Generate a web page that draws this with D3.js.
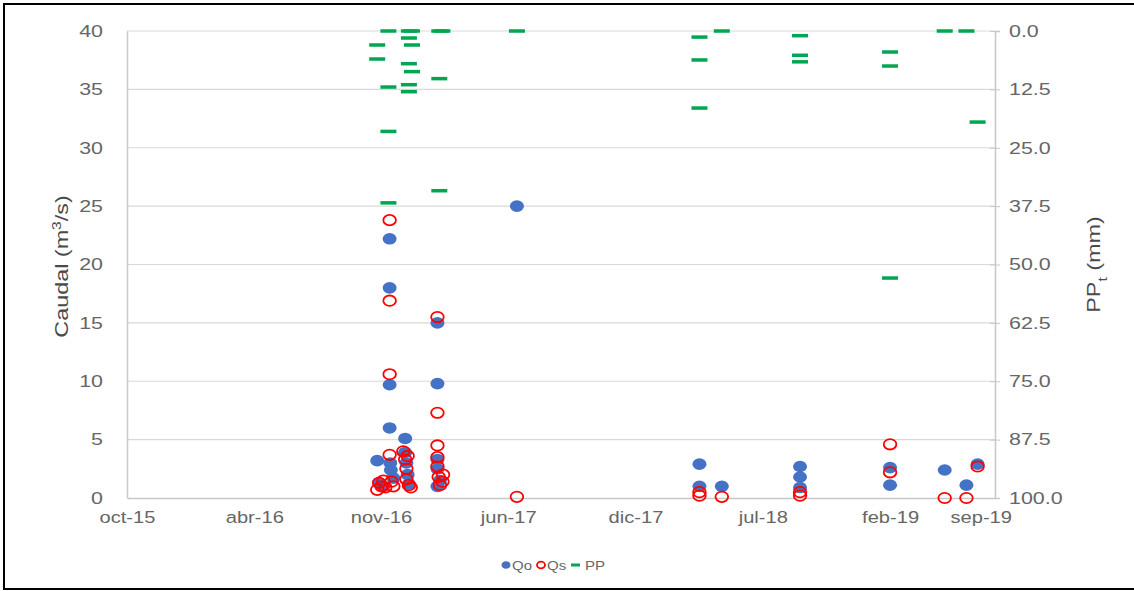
<!DOCTYPE html>
<html><head><meta charset="utf-8">
<script src="https://cdn.jsdelivr.net/npm/d3@7"></script>
<style>body{margin:0;background:#fff}svg{display:block}text{font-family:"Liberation Sans",Arial,sans-serif}</style>
</head><body><svg id="c" width="1134" height="591"></svg>
<script>
const domainDates = ["2015-10-01","2019-07-30"];
const tickDates = ["2015-10-01","2016-04-23","2016-11-13","2017-06-06","2017-12-28","2018-07-21","2019-02-11","2019-07-07"];
const tickLabels = ["oct-15","abr-16","nov-16","jun-17","dic-17","jul-18","feb-19","sep-19"];
const leftTicks = [0,5,10,15,20,25,30,35,40];
const rightTicks = [0,12.5,25,37.5,50,62.5,75,87.5,100];

const qoDates = ["2016-11-07","2016-11-10","2016-11-17","2016-11-27","2016-11-27","2016-11-27","2016-11-27","2016-11-28","2016-11-29","2016-12-03","2016-12-22","2016-12-22","2016-12-24","2016-12-26","2016-12-28","2017-02-12","2017-02-12","2017-02-12","2017-02-12","2017-02-12","2017-02-16","2017-06-20","2018-04-10","2018-04-10","2018-05-16","2018-09-19","2018-09-19","2018-09-19","2019-02-11","2019-02-11","2019-05-10","2019-06-14","2019-07-02"];
const qoValues = [3.2,1.3,1.0,22.2,18.0,9.7,6.0,3.0,2.4,1.7,5.1,3.9,3.0,2.0,1.2,15.0,9.8,3.3,2.5,1.0,1.5,25.0,2.9,1.0,1.0,2.7,1.8,0.9,2.6,1.1,2.4,1.1,2.9];

const qsDates = ["2016-11-07","2016-11-10","2016-11-14","2016-11-17","2016-11-20","2016-11-27","2016-11-27","2016-11-27","2016-11-27","2016-11-30","2016-12-03","2016-12-19","2016-12-22","2016-12-24","2016-12-24","2016-12-28","2016-12-31","2016-12-26","2017-02-12","2017-02-12","2017-02-12","2017-02-12","2017-02-12","2017-02-14","2017-02-16","2017-02-20","2017-02-21","2017-06-20","2018-04-10","2018-04-10","2018-05-16","2018-09-19","2018-09-19","2019-02-11","2019-02-11","2019-05-10","2019-06-14","2019-07-02"];
const qsValues = [0.7,1.3,1.0,1.5,0.9,23.8,16.9,10.6,3.7,1.4,1.0,4.0,3.3,2.5,1.6,1.1,0.9,3.6,15.5,7.3,4.5,3.5,2.7,1.8,1.1,1.4,2.0,0.1,0.5,0.2,0.1,0.5,0.2,4.6,2.2,0.0,0.0,2.7];

const ppDates = ["2016-11-07","2016-11-07","2016-11-25","2016-11-25","2016-11-25","2016-11-25","2016-12-28","2017-01-02","2016-12-28","2016-12-28","2017-01-02","2017-01-02","2016-12-28","2016-12-28","2017-02-15","2017-02-20","2017-02-15","2017-02-15","2017-06-20","2018-04-10","2018-04-10","2018-04-10","2018-05-16","2018-09-19","2018-09-19","2018-09-19","2019-02-11","2019-02-11","2019-02-11","2019-05-10","2019-06-14","2019-07-02"];
const ppValues = [3.0,6.0,0,12.0,21.5,36.8,0,0,1.5,7.0,3.0,8.7,11.5,13.0,0,0,10.2,34.2,0,1.3,6.2,16.5,0,1.0,5.2,6.6,4.5,7.5,52.9,0,0,19.5];

const parse = d3.timeParse("%Y-%m-%d");
const svg = d3.select("#c");
const L = 127, R = 995, T = 31, B = 498;
const SX = 1.3; // horizontal stretch of text in the reference
const txt = "#666666";

svg.append("rect").attr("x",4).attr("y",4).attr("width",1140).attr("height",585)
  .attr("fill","none").attr("stroke","#000").attr("stroke-width",2);

const x = d3.scaleTime().domain(domainDates.map(parse)).range([L,R]);
const y = d3.scaleLinear().domain([0,40]).range([B,T]);
const y2 = d3.scaleLinear().domain([0,100]).range([T,B]);

// gridlines
svg.append("g").selectAll("line").data(leftTicks.slice(1)).join("line")
  .attr("x1",L).attr("x2",R).attr("y1",d=>y(d)).attr("y2",d=>y(d))
  .attr("stroke","#d9d9d9").attr("stroke-width",1.2);

// left axis
const gl = svg.append("g").attr("transform",`translate(${L},0)`)
  .call(d3.axisLeft(y).tickValues(leftTicks).tickSize(0).tickPadding(0).tickFormat(d3.format("d")));
gl.select(".domain").attr("stroke","#c8c8c8").attr("stroke-width",1.5);
gl.selectAll("text").attr("fill",txt).attr("font-size",16.5)
  .attr("x",-24/SX).attr("transform",`scale(${SX},1)`);

// right axis
const gr = svg.append("g").attr("transform",`translate(${R},0)`)
  .call(d3.axisRight(y2).tickValues(rightTicks).tickSize(5).tickPadding(0).tickFormat(d3.format(".1f")));
gr.select(".domain").attr("stroke","#c8c8c8").attr("stroke-width",1.5);
gr.selectAll(".tick line").attr("stroke","#c8c8c8").attr("x1",-5);
gr.selectAll("text").attr("fill",txt).attr("font-size",16.5)
  .attr("x",14/SX).attr("transform",`scale(${SX},1)`);

// bottom axis
const gb = svg.append("g").attr("transform",`translate(0,${B})`)
  .call(d3.axisBottom(x).tickValues(tickDates.map(parse)).tickSize(0).tickPadding(13)
    .tickFormat((d,i)=>tickLabels[i]));
gb.select(".domain").attr("stroke","#c8c8c8").attr("stroke-width",1.5);
gb.selectAll("text").attr("fill",txt).attr("font-size",16.5).attr("transform",`scale(1.22,1)`);

// axis titles
svg.append("text").attr("transform",`translate(68,${(T+B)/2+2}) rotate(-90) scale(1.3,1)`).attr("text-anchor","middle")
  .attr("fill","#4a4a4a").attr("font-size",18)
  .html('Caudal (m<tspan baseline-shift="super" font-size="12">3</tspan>/s)');
svg.append("text").attr("transform",`translate(1100,${(T+B)/2}) rotate(-90) scale(1.3,1)`).attr("text-anchor","middle")
  .attr("fill","#4a4a4a").attr("font-size",18)
  .html('PP<tspan baseline-shift="sub" font-size="12">t</tspan> (mm)');

// PP
svg.append("g").selectAll("rect").data(ppDates.map((d,i)=>({d:parse(d),v:ppValues[i]}))).join("rect")
  .attr("x",d=>x(d.d)-8).attr("y",d=>y2(d.v)-1.75).attr("width",16).attr("height",3.5)
  .attr("fill","#00a651");

// Qo
svg.append("g").selectAll("ellipse").data(qoDates.map((d,i)=>({d:parse(d),v:qoValues[i]}))).join("ellipse")
  .attr("cx",d=>x(d.d)).attr("cy",d=>y(d.v)).attr("rx",7).attr("ry",5.8).attr("fill","#4472c4");

// Qs
svg.append("g").selectAll("ellipse").data(qsDates.map((d,i)=>({d:parse(d),v:qsValues[i]}))).join("ellipse")
  .attr("cx",d=>x(d.d)).attr("cy",d=>y(d.v)).attr("rx",6.3).attr("ry",5.2).attr("fill","none")
  .attr("stroke","#ff0000").attr("stroke-width",1.8);

// legend
const lg = svg.append("g").attr("transform","translate(0,565)");
lg.append("ellipse").attr("cx",506).attr("cy",0).attr("rx",4.5).attr("ry",3.8).attr("fill","#4472c4");
lg.append("text").attr("transform","translate(512,4.5) scale(1.25,1)").text("Qo").attr("fill",txt).attr("font-size",12);
lg.append("ellipse").attr("cx",541).attr("cy",0).attr("rx",4).attr("ry",3.3).attr("fill","none").attr("stroke","#ff0000").attr("stroke-width",1.8);
lg.append("text").attr("transform","translate(547,4.5) scale(1.25,1)").text("Qs").attr("fill",txt).attr("font-size",12);
lg.append("rect").attr("x",571).attr("y",-1.5).attr("width",9).attr("height",3).attr("fill","#00a651");
lg.append("text").attr("transform","translate(585,4.5) scale(1.25,1)").text("PP").attr("fill",txt).attr("font-size",12);
</script></body></html>
